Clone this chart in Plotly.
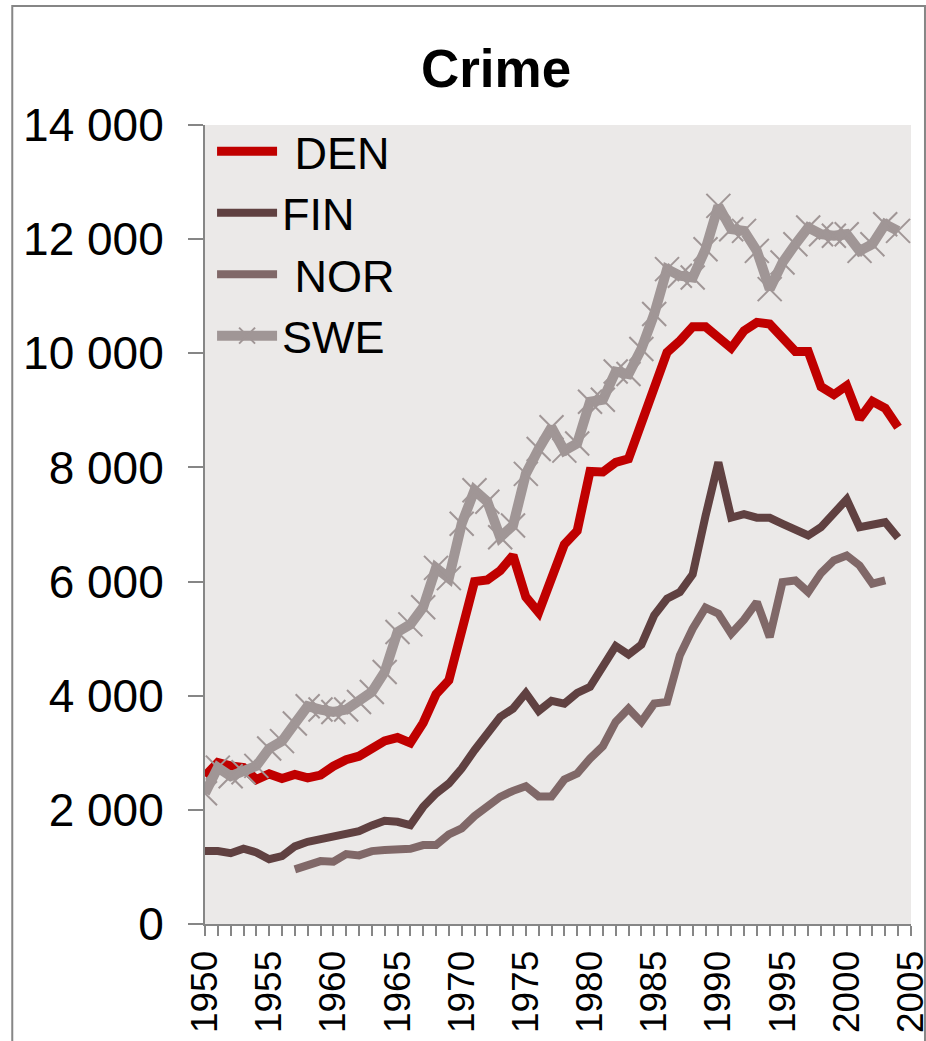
"""Crime index for the Nordic countries, 1950-2004."""

import plotly.graph_objects as go

YEARS = list(range(1950, 2005))
TICK_YEARS = [1950, 1955, 1960, 1965, 1970, 1975, 1980, 1985, 1990, 1995, 2000, 2005]

DEN = [
    2590, 2830, 2770, 2740, 2530, 2630, 2550, 2620, 2560, 2610,
    2765, 2880, 2940, 3074, 3208, 3267, 3173, 3523, 4025, 4270,
    5174, 6000, 6030, 6190, 6458, 5730, 5460, 6020, 6650, 6890,
    7930, 7920, 8090, 8150, 8762, 9345, 10015, 10220, 10465, 10465,
    10278, 10091, 10395, 10541, 10512, 10278, 10033, 10033, 9415, 9275,
    9433, 8850, 9158, 9036, 8703,
]
FIN = [
    1280, 1280, 1240, 1320, 1255, 1135, 1190, 1360, 1440, 1488,
    1511, 1552, 1628, 1727, 1808, 1791, 1733, 2053, 2287, 2462,
    2724, 3045, 3366, 3628, 3774, 4048, 3733, 3910, 3862, 4048,
    4153, 4521, 4871, 4719, 4894, 5408, 5699, 5816, 6125, 7150,
    8090, 7120, 7180, 7120, 7117, 7012, 6907, 6807, 6953, 7187,
    7440, 6953, 7000, 7040, 6767,
]
NOR = [
    None, None, None, None, None, None, None, 957, 1044, 1102,
    1091, 1225, 1202, 1277, 1295, 1295, 1318, 1383, 1383, 1569,
    1674, 1890, 2053, 2228, 2333, 2415, 2235, 2235, 2532, 2637,
    2899, 3115, 3541, 3774, 3541, 3862, 3891, 4708, 5174, 5542,
    5437, 5087, 5332, 5641, 5028, 5991, 6020, 5816, 6148, 6370,
    6458, 6283, 5962, 6020, None,
]
SWE = [
    2290, 2740, 2590, 2660, 2770, 3075, 3205, 3512, 3815, 3757,
    3716, 3757, 3891, 4066, 4416, 5116, 5250, 5550, 6240, 6060,
    7012, 7600, 7400, 6778, 6983, 7887, 8324, 8703, 8295, 8420,
    9150, 9185, 9680, 9636, 10074, 10687, 11474, 11358, 11328, 11824,
    12583, 12174, 12145, 11795, 11124, 11591, 11912, 12203, 12087, 12058,
    12087, 11795, 11912, 12262, 12145,
]

FONT = "Liberation Sans, Arial, sans-serif"
AXIS_GREY = "#868686"

fig = go.Figure()
fig.add_trace(go.Scatter(x=YEARS, y=DEN, name="\u00a0DEN", mode="lines",
                         line=dict(color="#C00000", width=9)))
fig.add_trace(go.Scatter(x=YEARS, y=FIN, name="FIN", mode="lines",
                         line=dict(color="#604141", width=8)))
fig.add_trace(go.Scatter(x=YEARS, y=NOR, name="\u00a0NOR", mode="lines",
                         line=dict(color="#806868", width=8)))
fig.add_trace(go.Scatter(
    x=YEARS, y=SWE, name="SWE", mode="lines+markers",
    line=dict(color="#A09696", width=10),
    marker=dict(symbol="x-thin", size=24, color="#A09696",
                line=dict(color="#A09696", width=2)),
))

fig.update_layout(
    width=926,
    height=1041,
    margin=dict(l=205, r=15, t=125, b=117),
    paper_bgcolor="white",
    plot_bgcolor="#EBE9E8",
    separators=". ",
    font=dict(family=FONT, color="black"),
    title=dict(text="<b>Crime</b>", font=dict(size=53), x=496 / 926,
               xanchor="center", xref="container", y=0.934, yanchor="middle"),
    showlegend=True,
    legend=dict(x=0.01, y=1.012, xanchor="left", yanchor="top",
                bgcolor="rgba(0,0,0,0)", font=dict(size=45),
                itemwidth=60, tracegroupgap=0),
)
fig.update_yaxes(
    range=[0, 14000], dtick=2000, tickformat=",d",
    showgrid=False, zeroline=False, automargin=False,
    showline=True, linecolor=AXIS_GREY, linewidth=2,
    ticks="outside", ticklen=15, tickcolor=AXIS_GREY, tickwidth=2,
    tickfont=dict(size=46), ticklabelstandoff=15,
)
fig.update_xaxes(
    range=[1950, 2005.01], tickmode="array", tickvals=TICK_YEARS,
    ticktext=[str(y) for y in TICK_YEARS], tickangle=-90,
    showgrid=False, zeroline=False, automargin=False,
    showline=True, linecolor=AXIS_GREY, linewidth=2,
    ticks="outside", ticklen=10, tickcolor=AXIS_GREY, tickwidth=2,
    minor=dict(dtick=1, tick0=1950, ticks="outside", ticklen=10,
               tickcolor=AXIS_GREY, tickwidth=2),
    tickfont=dict(size=37), ticklabeloverflow="allow",
)
# outer chart border
fig.add_shape(type="rect", xref="paper", yref="paper",
              x0=-0.273, x1=1.0198, y0=-0.2, y1=1.149,
              line=dict(color=AXIS_GREY, width=2), layer="below")

fig.write_html("out.html", config={"displayModeBar": False},
               post_script="document.body.style.margin='0';")
